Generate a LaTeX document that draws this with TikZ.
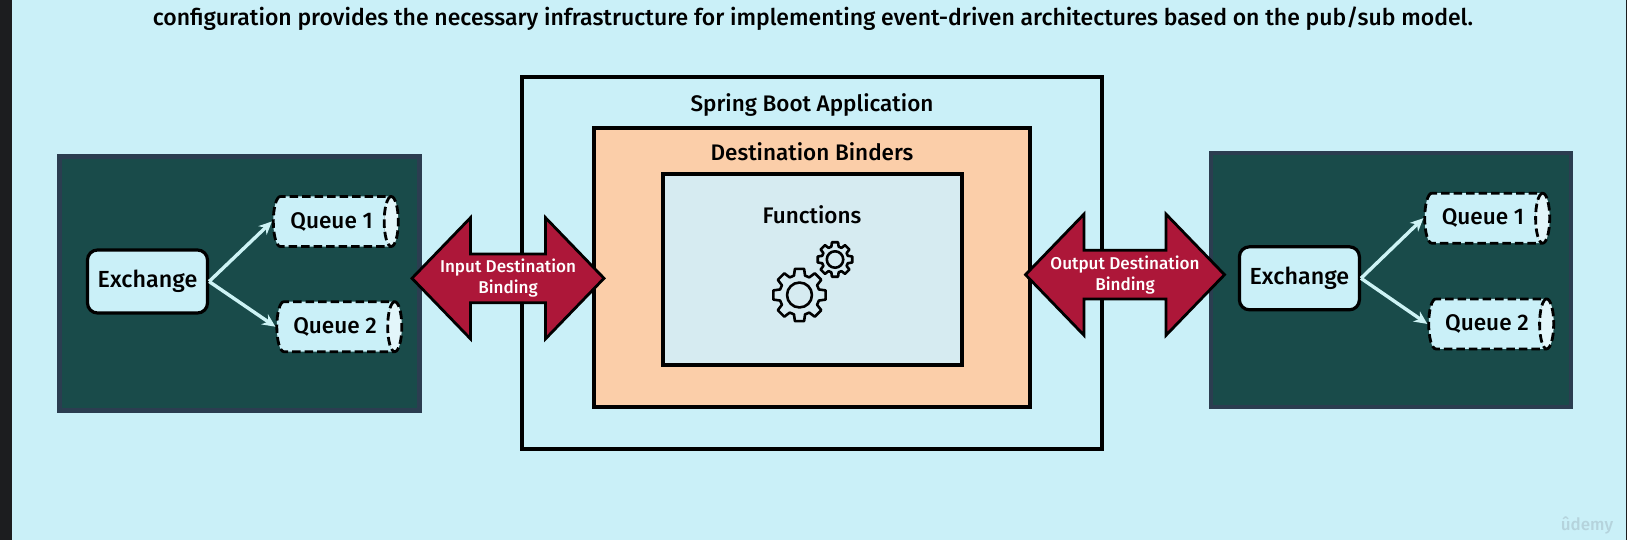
\documentclass[tikz,border=0pt]{standalone}
\usepackage{fontspec}
\setmainfont{Fira Sans Medium}
\usetikzlibrary{arrows.meta, shapes.arrows, shapes.geometric}

\definecolor{pagebg}{HTML}{CAF0F8}
\definecolor{stripdark}{HTML}{1C1D1F}
\definecolor{panelfill}{HTML}{194B4A}
\definecolor{panelline}{HTML}{2B3D50}
\definecolor{binderfill}{HTML}{FBCEA9}
\definecolor{funcfill}{HTML}{D6EBF1}
\definecolor{arrowfill}{HTML}{AD1739}
\definecolor{linkline}{HTML}{CDF3F5}
\definecolor{capfill}{HTML}{E3F6FA}
\definecolor{wmark}{HTML}{B5D3DC}

\begin{document}
\begin{tikzpicture}[
    x=1pt,
    y=-1pt,
    panel/.style={
        rectangle,
        draw=panelline,
        fill=panelfill,
        line width=4.5pt,
        minimum width=360pt,
        minimum height=254pt,
    },
    framebox/.style={
        rectangle,
        draw=black,
        line width=4pt,
    },
    caption/.style={
        font=\fontsize{22.5}{26}\selectfont,
        text=black,
        inner sep=0pt,
    },
    exchange/.style={
        rectangle,
        rounded corners=10pt,
        draw=black,
        fill=pagebg,
        line width=3.2pt,
        minimum width=120pt,
        minimum height=63pt,
        inner sep=0pt,
        font=\fontsize{23.3}{27}\selectfont,
    },
    queue/.style={
        cylinder,
        cylinder uses custom fill,
        cylinder body fill=pagebg,
        cylinder end fill=capfill,
        draw=black,
        dashed,
        dash pattern=on 8.5pt off 4pt,
        line width=2.8pt,
        minimum width=50pt,
        minimum height=125pt,
        shape aspect=0.75,
        inner sep=0pt,
        anchor=shape center,
        font=\fontsize{22.6}{26}\selectfont,
    },
    binding/.style={
        double arrow,
        draw=black,
        fill=arrowfill,
        line width=2.8pt,
        minimum width=121pt,
        minimum height=192pt,
        double arrow head extend=30.5pt,
        double arrow tip angle=92,
        inner sep=0pt,
        align=center,
        text=white,
        font=\fontsize{17.1}{21}\selectfont,
    },
    feed/.style={
        line width=3.4pt,
        draw=linkline,
        -{Stealth[length=13pt,width=12pt]},
    },
    gearline/.style={
        line width=2.6pt,
        line join=round,
    },
    pics/gearwheel/.style={
        code={
            \draw[gearline] (-10:1)
                \foreach \a in {0,45,...,315} {
                    -- (\a-10:1) -- (\a+10:1) -- (\a+16:0.76) -- (\a+29:0.76)
                } -- cycle;
            \draw[gearline] (0,0) circle (0.47);
        }
    },
]
    % Background
    \fill[pagebg] (0,0) rectangle (1627,540);
    \fill[stripdark] (0,0) rectangle (12,540);
    \fill[stripdark] (1626,0) rectangle (1627,540);
    \useasboundingbox (0,0) rectangle (1627,540);

    % Intro line
    \node[font=\fontsize{23}{27}\selectfont, inner sep=0pt] (intro) at (813,19) {configuration provides the necessary infrastructure for implementing event-driven architectures based on the pub/sub model.};

    % Application frames
    \node[framebox, minimum width=580pt, minimum height=372pt, fill=pagebg] (app) at (812,263) {};
    \node[framebox, minimum width=436pt, minimum height=278pt, fill=binderfill] (binders) at (812,267.5) {};
    \node[framebox, minimum width=299pt, minimum height=191pt, fill=funcfill] (funcs) at (812.5,269.5) {};
    \node[caption] (applabel) at (812,104.5) {Spring Boot Application};
    \node[caption] (binderlabel) at (812,152) {Destination Binders};
    \node[caption] (funclabel) at (812,215) {Functions};

    % Gears
    \pic[scale=26.5] at (799.5,295) {gearwheel};
    \pic[scale=17.5] at (835,259.5) {gearwheel};

    % Left broker
    \node[panel] (brokerL) at (239.5,283.5) {};
    \node[exchange] (xchgL) at (147.5,281.5) {Exchange};
    \node[queue] (queueLa) at (335.8,221.5) {Queue 1};
    \node[queue] (queueLb) at (339.3,326.7) {Queue 2};
    \draw[feed] (xchgL.east) -- (queueLa.west);
    \draw[feed] (xchgL.east) -- (queueLb.west);

    % Right broker
    \node[panel] (brokerR) at (1391.2,280) {};
    \node[exchange] (xchgR) at (1299.4,278.3) {Exchange};
    \node[queue] (queueRa) at (1487.2,218.2) {Queue 1};
    \node[queue] (queueRb) at (1491.2,323.9) {Queue 2};
    \draw[feed] (xchgR.east) -- (queueRa.west);
    \draw[feed] (xchgR.east) -- (queueRb.west);

    % Bindings
    \node[binding] (inbind) at (508,278.3) {Input Destination\\Binding};
    \node[binding] (outbind) at (1125,274.7) {Output Destination\\Binding};

    % Watermark
    \node[font=\fontsize{17}{20}\selectfont, text=wmark, inner sep=0pt] (brand) at (1587,525) {ûdemy};
\end{tikzpicture}
\end{document}
